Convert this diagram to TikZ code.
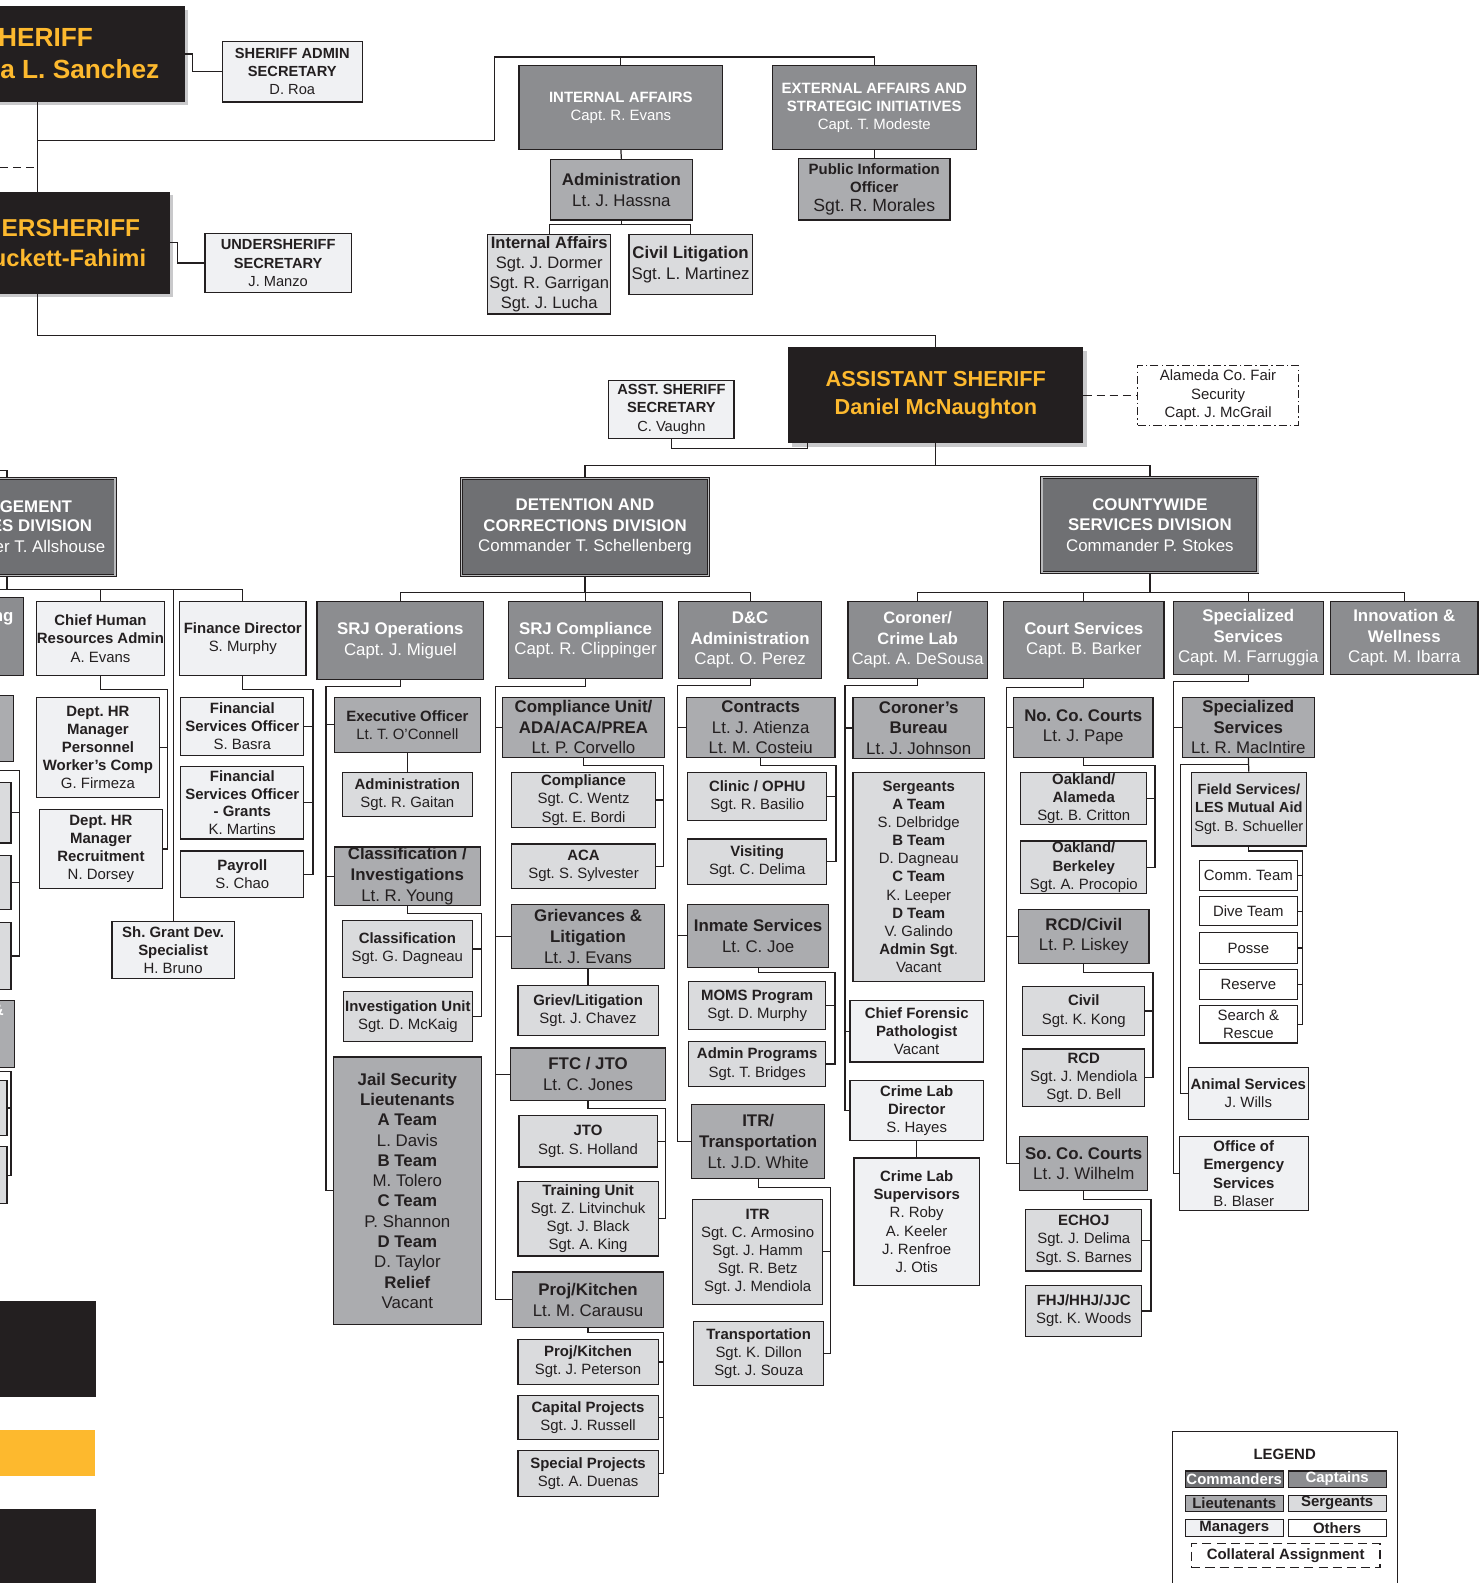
\documentclass[tikz,border=0pt]{standalone}
\usepackage{fontspec}
\setmainfont{Liberation Sans}
\usetikzlibrary{shadows}
\frenchspacing

\definecolor{ink}{HTML}{231F20}
\definecolor{gold}{HTML}{FDB92E}
\definecolor{cmdgray}{HTML}{6F7073}
\definecolor{capgray}{HTML}{8C8D90}
\definecolor{ltgray}{HTML}{ABACAF}
\definecolor{sgtgray}{HTML}{DADBDD}
\definecolor{mgrgray}{HTML}{F0F1F3}
\definecolor{shade}{HTML}{C9C9CB}
\definecolor{dblgray}{HTML}{B9BABC}

\begin{document}
\begin{tikzpicture}[x=1pt,y=-1pt,
    box/.style={draw=ink,line width=1.2pt,inner sep=0.5pt,align=center,text=ink},
    cmdr/.style={box,fill=cmdgray,text=white,line width=0.8pt,double=dblgray,double distance=1.4pt},
    capt/.style={box,fill=capgray,text=white},
    lt/.style={box,fill=ltgray},
    sgt/.style={box,fill=sgtgray},
    mgr/.style={box,fill=mgrgray},
    other/.style={box,fill=white},
    collat/.style={box,fill=white,line width=0.9pt,dash pattern=on 8pt off 3pt on 1.5pt off 3pt},
    legcol/.style={box,fill=white,dash pattern=on 9pt off 5pt},
    boss/.style={fill=ink,inner sep=0pt,drop shadow={shadow xshift=3.5pt,shadow yshift=-3.5pt,fill=shade,opacity=1}},
    bossfont/.style={text=gold,align=center,font=\bfseries\fontsize{#1}{27}\selectfont},
    cut/.style={inner sep=0pt,text=white,font=\bfseries\fontsize{16.7}{20}\selectfont},
    wh/.style 2 args={minimum width=#1,minimum height=#2},
    f145/.style={font=\fontsize{14.5}{18}\selectfont},
    f15/.style={font=\fontsize{14.8}{18}\selectfont},
    f17/.style={font=\fontsize{16.7}{20.3}\selectfont},
    conn/.style={draw=ink,line width=1.2pt},
    dashline/.style={conn,dash pattern=on 8pt off 5pt}]

\useasboundingbox (0,0) rectangle (1464,1568);
%\draw [help lines] (0,0) grid (1464,1568);

% top
\path   (37,53.5) node (sheriff) [boss,wh={292}{95}] {}
        (37,240.5) node (under) [boss,wh={262}{101}] {}
        (927,391.5) node (asst) [boss,wh={292}{95},bossfont=21.5] {ASSISTANT SHERIFF\\Daniel McNaughton}
        (-2,46.3) node (shttl) [bossfont=26,anchor=base west,inner sep=0pt] {HERIFF}
        (158,77.5) node (shname) [bossfont=26,anchor=base east,inner sep=0pt] {a L. Sanchez}
        (139,234.6) node (unttl) [bossfont=24.2,anchor=base east,inner sep=0pt] {ERSHERIFF}
        (145,263.6) node (unname) [bossfont=23.5,anchor=base east,inner sep=0pt] {uckett-Fahimi};

\path   (289.5,71) node (adminsec) [mgr,f145,wh={139}{60}] {\textbf{SHERIFF ADMIN}\\\textbf{SECRETARY}\\D. Roa}
        (275.5,260.5) node (undersec) [mgr,f145,wh={145}{59}] {\textbf{UNDERSHERIFF}\\\textbf{SECRETARY}\\J. Manzo}
        (665,405.5) node (asstsec) [mgr,f145,wh={124}{57}] {\textbf{ASST. SHERIFF}\\\textbf{SECRETARY}\\C. Vaughn}
        (1206.5,391.5) node (fair) [collat,f15,wh={159}{59}] {Alameda Co. Fair\\Security\\Capt. J. McGrail};

\path   (615,106.5) node (ia) [capt,f15,wh={202}{83}] {\textbf{INTERNAL AFFAIRS}\\Capt. R. Evans}
        (866,106.5) node (ea) [capt,f15,wh={202}{83}] {\textbf{EXTERNAL AFFAIRS AND}\\\textbf{STRATEGIC INITIATIVES}\\Capt. T. Modeste}
        (615.5,188) node (iaadm) [lt,f17,wh={141}{60}] {\textbf{Administration}\\Lt. J. Hassna}
        (866,187.5) node (pio) [lt,f15,wh={150}{61}] {\textbf{Public Information}\\\textbf{Officer}\\{\fontsize{17.5}{19}\selectfont Sgt. R. Morales}}
        (544,271.5) node (iasgt) [sgt,font=\fontsize{16.4}{20}\selectfont,wh={122}{79}] {\textbf{Internal Affairs}\\Sgt. J. Dormer\\Sgt. R. Garrigan\\Sgt. J. Lucha}
        (684,262) node (civlit) [sgt,f17,wh={122}{60}] {\textbf{Civil Litigation}\\Sgt. L. Martinez};

% divisions
\path   (7,522) node (mgmt) [cmdr,f17,wh={214}{96}] {}
        (579.5,522) node (dcd) [cmdr,f17,wh={245}{96}] {\textbf{DETENTION AND}\\\textbf{CORRECTIONS DIVISION}\\Commander T. Schellenberg}
        (1139,520) node (cws) [cmdr,f17,wh={214}{94}] {\textbf{COUNTYWIDE}\\\textbf{SERVICES DIVISION}\\Commander P. Stokes}
        (71.5,507.5) node (mga) [cut,anchor=base east] {GEMENT}
        (91.5,526.8) node (mgb) [cut,anchor=base east] {ES DIVISION}
        (104.5,547) node (mgc) [cut,anchor=base east,font=\fontsize{16.7}{20}\selectfont] {er T. Allshouse};

% management services (cut at the left edge)
\path   (-52,630.5) node (pl1) [capt,wh={150}{77}] {}
        (-43.5,721.5) node (pl2) [lt,wh={113}{65}] {}
        (-44.5,805) node (ps1) [sgt,wh={111}{60}] {}
        (-44.5,874) node (ps2) [sgt,wh={111}{54}] {}
        (-44.5,947) node (ps3) [sgt,wh={111}{66}] {}
        (-43,1024) node (pl3) [lt,wh={114}{66}] {}
        (-46.5,1097.5) node (ps4) [sgt,wh={107}{55}] {}
        (-46.5,1164) node (ps5) [sgt,wh={107}{56}] {}
        (13.5,615.5) node (plng) [cut,anchor=base east] {ng}
        (4,1005.5) node (plamp) [cut,anchor=base east] {\&};

\path   (99.5,632.5) node (chr) [mgr,f15,wh={127}{73}] {\textbf{Chief Human}\\\textbf{Resources Admin}\\A. Evans}
        (240.5,632.5) node (findir) [mgr,f15,wh={125}{73}] {\textbf{Finance Director}\\S. Murphy}
        (97,740.5) node (hrpers) [mgr,font=\fontsize{14.8}{17.8}\selectfont,wh={122}{99}] {\textbf{Dept. HR}\\\textbf{Manager}\\\textbf{Personnel}\\\textbf{Worker’s Comp}\\G. Firmeza}
        (100,841) node (hrrec) [mgr,f15,wh={122}{78}] {\textbf{Dept. HR}\\\textbf{Manager}\\\textbf{Recruitment}\\N. Dorsey}
        (240,719.5) node (fso1) [mgr,f15,wh={122}{57}] {\textbf{Financial}\\\textbf{Services Officer}\\S. Basra}
        (240,795) node (fso2) [mgr,font=\fontsize{14.8}{17.6}\selectfont,wh={122}{72}] {\textbf{Financial}\\\textbf{Services Officer}\\\textbf{- Grants}\\K. Martins}
        (240,866) node (payroll) [mgr,f15,wh={122}{46}] {\textbf{Payroll}\\S. Chao}
        (171.5,941) node (grant) [mgr,f15,wh={121}{56}] {\textbf{Sh. Grant Dev.}\\\textbf{Specialist}\\H. Bruno};

% detention and corrections
\path   (396.5,634.5) node (srjops) [capt,f17,wh={165}{77}] {\textbf{SRJ Operations}\\Capt. J. Miguel}
        (580,634) node (srjcmp) [capt,f17,wh={152}{76}] {\textbf{SRJ Compliance}\\Capt. R. Clippinger}
        (743,634) node (dcadm) [capt,f17,wh={142}{76}] {\textbf{D\&C}\\\textbf{Administration}\\Capt. O. Perez};

\path   (403.5,718) node (exec) [lt,f15,wh={145}{54}] {\textbf{Executive Officer}\\Lt. T. O’Connell}
        (403.5,787) node (opsadm) [sgt,f15,wh={129}{44}] {\textbf{Administration}\\Sgt. R. Gaitan}
        (403.5,868) node (clinv) [lt,font=\fontsize{16.7}{20.5}\selectfont,wh={145}{58}] {\textbf{Classification /}\\\textbf{Investigations}\\Lt. R. Young}
        (403.5,940) node (clsgt) [sgt,f15,wh={129}{56}] {\textbf{Classification}\\Sgt. G. Dagneau}
        (404,1007) node (invu) [sgt,f15,wh={128}{50}] {\textbf{Investigation Unit}\\Sgt. D. McKaig}
        (403.5,1179.5) node (jail) [lt,font=\fontsize{16.7}{20.1}\selectfont,wh={147}{265}] {\textbf{Jail Security}\\\textbf{Lieutenants}\\\textbf{A Team}\\L. Davis\\\textbf{B Team}\\M. Tolero\\\textbf{C Team}\\P. Shannon\\\textbf{D Team}\\D. Taylor\\\textbf{Relief}\\Vacant};

\path   (578,720.5) node (cmpl) [lt,f17,wh={160}{59}] {\textbf{Compliance Unit/}\\\textbf{ADA/ACA/PREA}\\Lt. P. Corvello}
        (578,792.5) node (cmpsgt) [sgt,f15,wh={142}{55}] {\textbf{Compliance}\\Sgt. C. Wentz\\Sgt. E. Bordi}
        (578,858) node (aca) [sgt,f15,wh={142}{44}] {\textbf{ACA}\\Sgt. S. Sylvester}
        (582.5,927.5) node (griev) [lt,font=\fontsize{16.7}{20.5}\selectfont,wh={151}{63}] {\textbf{Grievances \&}\\\textbf{Litigation}\\Lt. J. Evans}
        (582.5,1001) node (grsgt) [sgt,f15,wh={139}{50}] {\textbf{Griev/Litigation}\\Sgt. J. Chavez}
        (582.5,1064) node (ftc) [lt,font=\fontsize{16.7}{21}\selectfont,wh={153}{52}] {\textbf{FTC / JTO}\\Lt. C. Jones}
        (582.5,1130.5) node (jto) [sgt,f15,wh={137}{51}] {\textbf{JTO}\\Sgt. S. Holland}
        (582.5,1207) node (train) [sgt,font=\fontsize{14.8}{17.7}\selectfont,wh={139}{74}] {\textbf{Training Unit}\\Sgt. Z. Litvinchuk\\Sgt. J. Black\\Sgt. A. King}
        (582.5,1287.5) node (projlt) [lt,font=\fontsize{16.7}{21}\selectfont,wh={149}{55}] {\textbf{Proj/Kitchen}\\Lt. M. Carausu}
        (582.5,1349) node (projsgt) [sgt,f15,wh={139}{44}] {\textbf{Proj/Kitchen}\\Sgt. J. Peterson}
        (582.5,1404) node (capproj) [sgt,f15,wh={139}{44}] {\textbf{Capital Projects}\\Sgt. J. Russell}
        (582.5,1459.5) node (specproj) [sgt,f15,wh={139}{45}] {\textbf{Special Projects}\\Sgt. A. Duenas};

\path   (753.5,720.5) node (contr) [lt,f17,wh={147}{59}] {\textbf{Contracts}\\Lt. J. Atienza\\Lt. M. Costeiu}
        (750,789) node (clinic) [sgt,f15,wh={138}{48}] {\textbf{Clinic / OPHU}\\Sgt. R. Basilio}
        (750,853.5) node (visit) [sgt,f15,wh={138}{45}] {\textbf{Visiting}\\Sgt. C. Delima}
        (751,927) node (inmate) [lt,f17,wh={140}{62}] {\textbf{Inmate Services}\\Lt. C. Joe}
        (750,996) node (moms) [sgt,f15,wh={136}{48}] {\textbf{MOMS Program}\\Sgt. D. Murphy}
        (750,1054) node (adprog) [sgt,f15,wh={136}{44}] {\textbf{Admin Programs}\\Sgt. T. Bridges}
        (751,1130.5) node (itrlt) [lt,font=\fontsize{16.7}{21}\selectfont,wh={132}{73}] {\textbf{ITR/}\\\textbf{Transportation}\\Lt. J.D. White}
        (750.5,1240) node (itr) [sgt,f15,wh={129}{104}] {\textbf{ITR}\\Sgt. C. Armosino\\Sgt. J. Hamm\\Sgt. R. Betz\\Sgt. J. Mendiola}
        (751.5,1340.5) node (transp) [sgt,f15,wh={129}{63}] {\textbf{Transportation}\\Sgt. K. Dillon\\Sgt. J. Souza};

% countywide services
\path   (909,634) node (coroner) [capt,font=\fontsize{16.3}{20.3}\selectfont,wh={138}{76}] {\textbf{Coroner/}\\\textbf{Crime Lab}\\Capt. A. DeSousa}
        (1073.5,634) node (court) [capt,f17,wh={159}{76}] {\textbf{Court Services}\\Capt. B. Barker}
        (1236.5,632) node (specs) [capt,f17,wh={149}{72}] {\textbf{Specialized}\\\textbf{Services}\\Capt. M. Farruggia}
        (1391,632) node (innov) [capt,f17,wh={146}{72}] {\textbf{Innovation \&}\\\textbf{Wellness}\\Capt. M. Ibarra};

\path   (910,721) node (corbur) [lt,font=\fontsize{16.7}{20.5}\selectfont,wh={130}{60}] {\textbf{Coroner’s}\\\textbf{Bureau}\\Lt. J. Johnson}
        (910,868.5) node (corsgt) [sgt,font=\fontsize{14.8}{17.9}\selectfont,wh={130}{207}] {\textbf{Sergeants}\\\textbf{A Team}\\S. Delbridge\\\textbf{B Team}\\D. Dagneau\\\textbf{C Team}\\K. Leeper\\\textbf{D Team}\\V. Galindo\\\textbf{Admin Sgt}.\\Vacant}
        (908,1021.5) node (forens) [mgr,f15,wh={132}{61}] {\textbf{Chief Forensic}\\\textbf{Pathologist}\\Vacant}
        (908,1100) node (cldir) [mgr,f15,wh={132}{60}] {\textbf{Crime Lab}\\\textbf{Director}\\S. Hayes}
        (908,1210) node (clsup) [mgr,f15,wh={124}{126}] {\textbf{Crime Lab}\\\textbf{Supervisors}\\R. Roby\\A. Keeler\\J. Renfroe\\J. Otis};

\path   (1073,720.5) node (nocc) [lt,f17,wh={138}{59}] {\textbf{No. Co. Courts}\\Lt. J. Pape}
        (1073.5,791) node (oakal) [sgt,f15,wh={125}{52}] {\textbf{Oakland/}\\\textbf{Alameda}\\Sgt. B. Critton}
        (1073.5,859) node (oakbk) [sgt,f15,wh={125}{52}] {\textbf{Oakland/}\\\textbf{Berkeley}\\Sgt. A. Procopio}
        (1073.5,927.5) node (rcdlt) [lt,f17,wh={129}{53}] {\textbf{RCD/Civil}\\Lt. P. Liskey}
        (1073.5,1001.5) node (civil) [sgt,f15,wh={121}{49}] {\textbf{Civil}\\Sgt. K. Kong}
        (1073.5,1067.5) node (rcd) [sgt,f15,wh={121}{57}] {\textbf{RCD}\\Sgt. J. Mendiola\\Sgt. D. Bell}
        (1073.5,1152.5) node (socc) [lt,f17,wh={127}{53}] {\textbf{So. Co. Courts}\\Lt. J. Wilhelm}
        (1073.5,1228.5) node (echoj) [sgt,f15,wh={115}{61}] {\textbf{ECHOJ}\\Sgt. J. Delima\\Sgt. S. Barnes}
        (1073.5,1298.5) node (fhj) [sgt,f15,wh={115}{51}] {\textbf{FHJ/HHJ/JJC}\\Sgt. K. Woods};

\path   (1236.5,720.5) node (speclt) [lt,f17,wh={131}{59}] {\textbf{Specialized}\\\textbf{Services}\\Lt. R. MacIntire}
        (1237,801.5) node (field) [sgt,font=\fontsize{14.5}{18}\selectfont,wh={114}{73}] {\textbf{Field Services/}\\\textbf{LES Mutual Aid}\\Sgt. B. Schueller}
        (1236.5,867) node (comm) [other,f15,wh={97}{30}] {Comm. Team}
        (1236.5,902.5) node (dive) [other,f15,wh={97}{29}] {Dive Team}
        (1236.5,939) node (posse) [other,f15,wh={97}{30}] {Posse}
        (1236.5,975) node (reserve) [other,f15,wh={97}{30}] {Reserve}
        (1236.5,1014.5) node (sar) [other,f15,wh={97}{37}] {Search \&\\Rescue}
        (1236.5,1083) node (animal) [mgr,f15,wh={119}{52}] {\textbf{Animal Services}\\J. Wills}
        (1232,1162.5) node (oes) [mgr,f15,wh={128}{73}] {\textbf{Office of}\\\textbf{Emergency}\\\textbf{Services}\\B. Blaser};

% legend
\path   (1272.5,1509) node (legbox) [other,wh={223}{182}] {}
        (1272.5,1441) node (legttl) [font=\bfseries\fontsize{14.8}{18}\selectfont,text=ink] {LEGEND}
        (1222.5,1465) node (lgcmd) [capt,fill=cmdgray,font=\bfseries\fontsize{14.8}{16}\selectfont,wh={97}{16}] {Commanders}
        (1324.5,1465) node (lgcap) [capt,font=\bfseries\fontsize{14.8}{16}\selectfont,wh={97}{16}] {Captains}
        (1222.5,1489) node (lglt) [lt,font=\bfseries\fontsize{14.8}{16}\selectfont,wh={97}{16}] {Lieutenants}
        (1324.5,1489) node (lgsgt) [sgt,font=\bfseries\fontsize{14.8}{16}\selectfont,wh={97}{16}] {Sergeants}
        (1222.5,1513.5) node (lgmgr) [mgr,font=\bfseries\fontsize{14.8}{16}\selectfont,wh={97}{17}] {Managers}
        (1324.5,1513.5) node (lgoth) [other,font=\bfseries\fontsize{14.8}{16}\selectfont,wh={97}{17}] {Others}
        (1273.5,1541) node (lgcol) [legcol,font=\bfseries\fontsize{14.8}{16}\selectfont,wh={187}{24}] {Collateral Assignment};

% colour swatches at the left edge
\fill[ink] (0,1289) rectangle (95,1384);
\fill[gold] (0,1416) rectangle (94,1462);
\fill[ink] (0,1495) rectangle (95,1570);

% connectors
\coordinate (kTop) at (37,139);
\coordinate (kUp) at (490,56.5);
\coordinate (kSec) at (191,71);
\coordinate (kUsec) at (176,260.5);
\coordinate (kDash) at (0,166);
\coordinate (kAs) at (927,332);
\coordinate (kIAb) at (615.5,222);
\coordinate (kAsec) at (800,444);
\coordinate (kDiv) at (927,461);
\coordinate (kMg) at (0,466);

\draw[conn] (sheriff.south) -- (under.north);
\draw[conn] (kTop) -| (kUp) -| (ea.north);
\draw[conn] (ia.north) -- (ia.north |- kUp);
\draw[dashline] (kDash) -- (kDash -| kTop);
\draw[conn] (sheriff.east) -| (kSec) -- (adminsec.west);
\draw[conn] (under.east) -| (kUsec) -- (undersec.west);
\draw[conn] (under.south) |- (kAs) -- (asst.north);
\draw[conn] (ia.south) -- (iaadm.north);
\draw[conn] (ea.south) -- (pio.north);
\draw[conn] (iaadm.south) -- (kIAb);
\draw[conn] (iasgt.north) |- (kIAb) -| (civlit.north);
\draw[conn] (asstsec.south) |- (kAsec) -- (kAsec |- asst.south);
\draw[dashline] (asst.east) -- (fair.west);
\draw[conn] (asst.south) -- (kDiv);
\draw[conn] (dcd.north) |- (kDiv) -| (cws.north);
\draw[conn] (mgmt.north) |- (kMg);

% management services
\coordinate (kMgL) at (0,584);
\coordinate (kHR) at (166,683);
\coordinate (kFin) at (310,683);
\coordinate (kLa0) at (0,763);
\coordinate (kLa) at (19,763);
\coordinate (kLb0) at (0,1061);
\coordinate (kLb) at (11,1061);

\draw[conn] (mgmt.south) -- (mgmt.south |- kMgL);
\draw[conn] (kMgL) -| (findir.north);
\draw[conn] (chr.north) -- (chr.north |- kMgL);
\draw[conn] (grant.north) -- (grant.north |- kMgL);
\draw[conn] (chr.south) |- (kHR) |- (hrrec.east);
\draw[conn] (hrpers.east) -- (hrpers.east -| kHR);
\draw[conn] (findir.south) |- (kFin) |- (payroll.east);
\draw[conn] (fso1.east) -- (fso1.east -| kFin);
\draw[conn] (fso2.east) -- (fso2.east -| kFin);
\draw[conn] (kLa0) -- (kLa) |- (ps3.east);
\draw[conn] (ps1.east) -- (ps1.east -| kLa);
\draw[conn] (ps2.east) -- (ps2.east -| kLa);
\draw[conn] (kLb0) -- (kLb) |- (ps5.east);
\draw[conn] (ps4.east) -- (ps4.east -| kLb);

% detention and corrections
\coordinate (kDcd) at (579.5,587);
\coordinate (kOps) at (323,680);
\coordinate (kCl) at (477,905);
\coordinate (kCmp) at (491,680);
\coordinate (kCu) at (657,758);
\coordinate (kFtc) at (659,1098);
\coordinate (kPj) at (657,1320);
\coordinate (kDca) at (671,679);
\coordinate (kCo) at (828,758);
\coordinate (kIn) at (827,963);
\coordinate (kItr) at (823,1176);

\draw[conn] (dcd.south) -- (kDcd);
\draw[conn] (srjops.north) |- (kDcd) -| (dcadm.north);
\draw[conn] (srjcmp.north) -- (srjcmp.north |- kDcd);
\draw[conn] (srjops.south) |- (kOps) |- (jail.west);
\draw[conn] (exec.west) -- (exec.west -| kOps);
\draw[conn] (clinv.west) -- (clinv.west -| kOps);
\draw[conn] (exec.south) -- (opsadm.north);
\draw[conn] (clinv.south) |- (kCl) |- (invu.east);
\draw[conn] (clsgt.east) -- (clsgt.east -| kCl);
\draw[conn] (srjcmp.south) |- (kCmp) |- (projlt.west);
\draw[conn] (cmpl.west) -- (cmpl.west -| kCmp);
\draw[conn] (griev.west) -- (griev.west -| kCmp);
\draw[conn] (ftc.west) -- (ftc.west -| kCmp);
\draw[conn] (cmpl.south) |- (kCu) |- (aca.east);
\draw[conn] (cmpsgt.east) -- (cmpsgt.east -| kCu);
\draw[conn] (griev.south) -- (grsgt.north);
\draw[conn] (ftc.south) |- (kFtc) |- (train.east);
\draw[conn] (jto.east) -- (jto.east -| kFtc);
\draw[conn] (projlt.south) |- (kPj) |- (specproj.east);
\draw[conn] (projsgt.east) -- (projsgt.east -| kPj);
\draw[conn] (capproj.east) -- (capproj.east -| kPj);
\draw[conn] (dcadm.south) |- (kDca) |- (itrlt.west);
\draw[conn] (contr.west) -- (contr.west -| kDca);
\draw[conn] (inmate.west) -- (inmate.west -| kDca);
\draw[conn] (contr.south) |- (kCo) |- (visit.east);
\draw[conn] (clinic.east) -- (clinic.east -| kCo);
\draw[conn] (inmate.south) |- (kIn) |- (adprog.east);
\draw[conn] (moms.east) -- (moms.east -| kIn);
\draw[conn] (itrlt.south) |- (kItr) |- (transp.east);
\draw[conn] (itr.east) -- (itr.east -| kItr);

% countywide services
\coordinate (kCws) at (1139,587);
\coordinate (kCor) at (837,679);
\coordinate (kCrt) at (997,681);
\coordinate (kNo) at (1144,758);
\coordinate (kRc) at (1142,963);
\coordinate (kSo) at (1140,1188);
\coordinate (kSp) at (1162,675);
\coordinate (kSl) at (1169,757);
\coordinate (kFs) at (1290,843);

\draw[conn] (cws.south) -- (kCws);
\draw[conn] (coroner.north) |- (kCws) -| (innov.north);
\draw[conn] (court.north) -- (court.north |- kCws);
\draw[conn] (specs.north) -- (specs.north |- kCws);
\draw[conn] (coroner.south) |- (kCor) |- (cldir.west);
\draw[conn] (corbur.west) -- (corbur.west -| kCor);
\draw[conn] (forens.west) -- (forens.west -| kCor);
\draw[conn] (cldir.south) -- (clsup.north);
\draw[conn] (court.south) |- (kCrt) |- (socc.west);
\draw[conn] (nocc.west) -- (nocc.west -| kCrt);
\draw[conn] (rcdlt.west) -- (rcdlt.west -| kCrt);
\draw[conn] (nocc.south) |- (kNo) |- (oakbk.east);
\draw[conn] (oakal.east) -- (oakal.east -| kNo);
\draw[conn] (rcdlt.south) |- (kRc) |- (rcd.east);
\draw[conn] (civil.east) -- (civil.east -| kRc);
\draw[conn] (socc.south) |- (kSo) |- (fhj.east);
\draw[conn] (echoj.east) -- (echoj.east -| kSo);
\draw[conn] (specs.south) |- (kSp) |- (oes.west);
\draw[conn] (speclt.west) -- (speclt.west -| kSp);
\draw[conn] (speclt.south) -- (field.north);
\draw[conn] (speclt.south |- kSl) -- (kSl) |- (animal.west);
\draw[conn] (field.south) |- (kFs) |- (sar.east);
\draw[conn] (comm.east) -- (comm.east -| kFs);
\draw[conn] (dive.east) -- (dive.east -| kFs);
\draw[conn] (posse.east) -- (posse.east -| kFs);
\draw[conn] (reserve.east) -- (reserve.east -| kFs);

\end{tikzpicture}
\end{document}
